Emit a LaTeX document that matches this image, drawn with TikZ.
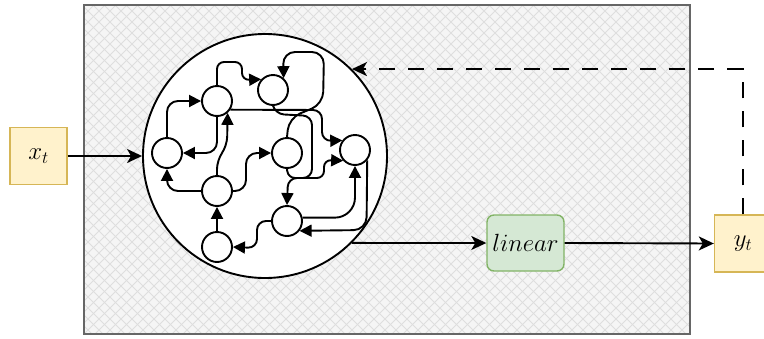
\documentclass[tikz,border=0pt]{standalone}
\usetikzlibrary{arrows.meta}

\definecolor{panelfill}{HTML}{F5F5F5}
\definecolor{hatchline}{HTML}{DEDEDE}
\definecolor{panelline}{HTML}{666666}
\definecolor{ioFill}{HTML}{FFF2CC}
\definecolor{ioLine}{HTML}{D6B656}
\definecolor{linFill}{HTML}{D5E8D4}
\definecolor{linLine}{HTML}{82B366}

\tikzset{
  unit/.style={circle, draw=black, fill=white, line width=1.9pt,
    minimum size=30pt, inner sep=0pt},
  iobox/.style={rectangle, draw=ioLine, fill=ioFill, line width=1.4pt,
    minimum width=57pt, minimum height=57pt, inner sep=0pt,
    font=\fontsize{23pt}{27pt}\selectfont},
  linbox/.style={rectangle, rounded corners=7pt, draw=linLine, fill=linFill,
    line width=1.4pt, minimum width=77pt, minimum height=56pt, inner sep=0pt,
    font=\fontsize{23pt}{27pt}\selectfont},
  flow/.style={line width=1.9pt, -{Stealth[length=15pt,width=14pt,inset=4pt]}},
  feedback/.style={flow, dash pattern=on 16pt off 13pt},
  wire/.style={line width=1.9pt, rounded corners=9pt,
    -{Triangle[length=12pt,width=12pt]}},
}

\begin{document}
\begin{tikzpicture}[x=1pt,y=-1pt]
\useasboundingbox (0,0) rectangle (764,338);
\clip (0,0) rectangle (764,338);

% cross-hatched panel
\fill[panelfill] (84,5) rectangle (690,334);
\begin{scope}
  \clip (84,5) rectangle (690,334);
  \foreach \k in {-30,...,100} {
    \draw[hatchline, line width=1pt] (\k*11,0) -- ++(340,340);
    \draw[hatchline, line width=1pt] (\k*11,0) -- ++(-340,340);
  }
\end{scope}
\draw[panelline, line width=1.6pt] (84,5) rectangle (690,334);

% reservoir
\node[circle, draw=black, fill=white, line width=1.9pt, minimum size=244pt,
  inner sep=0pt] (res) at (265,156) {};

\node[unit] (A) at (217,101) {};
\node[unit] (B) at (273,90) {};
\node[unit] (C) at (167,153) {};
\node[unit] (D) at (287,153) {};
\node[unit] (E) at (355,150) {};
\node[unit] (F) at (217,191) {};
\node[unit] (G) at (287,221) {};
\node[unit] (H) at (217,247) {};

% input, readout, output
\node[iobox] (xt) at (38.5,156) {$x_t$};
\node[linbox] (lin) at (525.5,243) {$linear$};
\node[iobox] (yt) at (743,243.5) {$y_t$};

% recurrent connections
\draw[wire] (H.north) -- (F.south);
\draw[wire] (F.north) -- (217,160) -- (227,146) -- (A.-48);
\draw[wire, rounded corners=11pt] (A.south) -- (217,153) -- (C.east);
\draw[wire, rounded corners=11pt] (C.north) -- (167,101) -- (A.west);
\draw[wire, rounded corners=11pt] (F.west) -- (167,191) -- (C.south);
\draw[wire, rounded corners=11pt] (F.east) -- (246,191) -- (246,153) -- (D.west);
\draw[wire, rounded corners=7pt] (A.north) -- (217,62) -- (242,62) -- (242,80) -- (B.138);
\draw[wire, rounded corners=12pt] (D.north) -- (289,118) -- (323,104) -- (324,52) -- (283,52) -- (B.48);
\draw[wire] (A.-33) -- (322,110) -- (322,141) -- (E.143);
\draw[wire] (B.south) -- (275,114) -- (312,116) -- (312,178) -- (288,178) -- (G.north);
\draw[wire, rounded corners=7pt] (D.south) -- (288,178) -- (324,178) -- (324,160) -- (E.-138);
\draw[wire, rounded corners=13pt] (E.-40) -- (366.5,230) -- (G.-38);
\draw[wire, rounded corners=20pt] (G.12) -- (355,217.6) -- (E.south);
\draw[wire] (G.west) -- (257,221) -- (257,248) -- (H.east);

% data flow
\draw[flow] (xt.east) -- (res.west);
\draw[flow] (res.-45.5) -- (lin.west);
\draw[flow] (lin.east) -- (yt.west);
\draw[feedback] (yt.north) |- (res.45.5);
\end{tikzpicture}
\end{document}
